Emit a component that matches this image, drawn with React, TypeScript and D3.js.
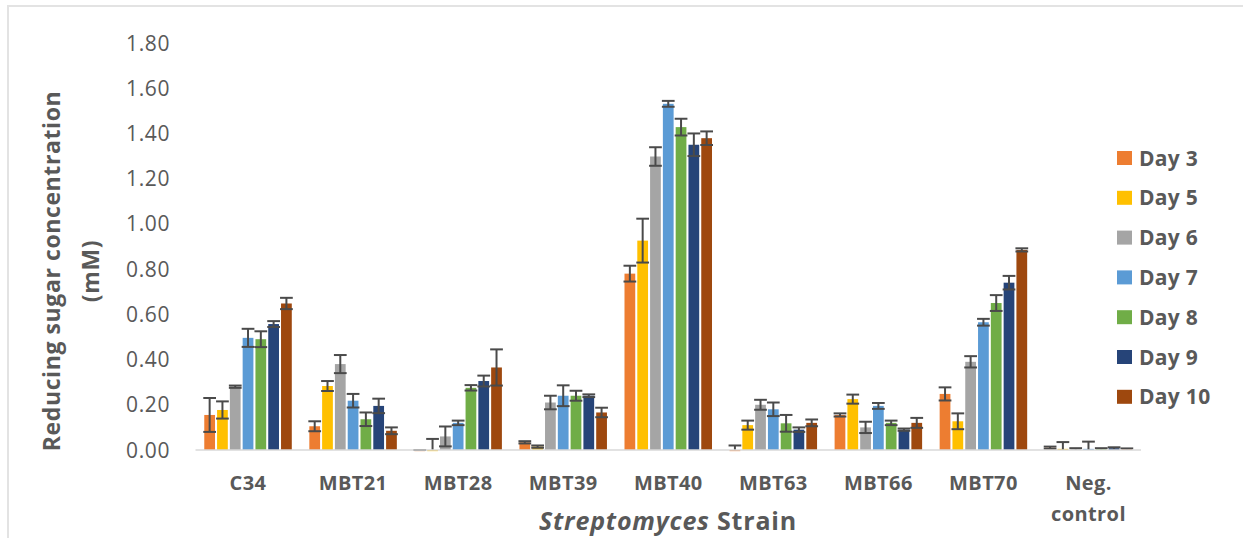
import React, { useEffect, useRef } from "react";
import * as d3 from "d3";

// strains along the x axis, days as the series
const strains = ["C34", "MBT21", "MBT28", "MBT39", "MBT40", "MBT63", "MBT66", "MBT70", "Neg. control"];
const days = ["Day 3", "Day 5", "Day 6", "Day 7", "Day 8", "Day 9", "Day 10"];
const dayColors = ["#ED7D31", "#FFC000", "#A5A5A5", "#5B9BD5", "#70AD47", "#264478", "#9E480E"];

// mean reducing sugar (mM) per strain, one array per day
const day3 = [0.155, 0.105, -0.005, 0.034, 0.78, -0.005, 0.155, 0.248, 0.01];
const day5 = [0.177, 0.283, -0.005, 0.015, 0.926, 0.11, 0.225, 0.127, 0.005];
const day6 = [0.28, 0.38, 0.06, 0.21, 1.298, 0.2, 0.1, 0.39, 0.005];
const day7 = [0.496, 0.218, 0.12, 0.24, 1.531, 0.18, 0.195, 0.565, 0.005];
const day8 = [0.49, 0.136, 0.275, 0.24, 1.428, 0.118, 0.12, 0.65, 0.005];
const day9 = [0.557, 0.195, 0.305, 0.24, 1.35, 0.09, 0.09, 0.74, 0.008];
const day10 = [0.648, 0.085, 0.365, 0.166, 1.379, 0.12, 0.12, 0.885, 0.004];

// error bar half-lengths, same layout
const err3 = [0.075, 0.022, 0.005, 0.005, 0.035, 0.025, 0.007, 0.029, 0.005];
const err5 = [0.038, 0.022, 0.054, 0.005, 0.097, 0.02, 0.02, 0.035, 0.03];
const err6 = [0.005, 0.04, 0.044, 0.03, 0.041, 0.022, 0.025, 0.025, 0.003];
const err7 = [0.04, 0.03, 0.01, 0.046, 0.013, 0.03, 0.013, 0.015, 0.032];
const err8 = [0.035, 0.03, 0.012, 0.022, 0.037, 0.037, 0.01, 0.035, 0.003];
const err9 = [0.013, 0.032, 0.024, 0.006, 0.05, 0.01, 0.005, 0.03, 0.004];
const err10 = [0.025, 0.015, 0.08, 0.021, 0.03, 0.015, 0.022, 0.007, 0.003];

const yTicks = [0, 0.2, 0.4, 0.6, 0.8, 1.0, 1.2, 1.4, 1.6, 1.8];

const seriesValues = [day3, day5, day6, day7, day8, day9, day10];
const seriesErrors = [err3, err5, err6, err7, err8, err9, err10];

function App() {
    const ref = useRef<SVGSVGElement>(null);

    useEffect(() => {
        const W = 1243, H = 538;
        const svg = d3.select(ref.current);
        svg.selectAll("*").remove();

        const textColor = "#595959";
        const font = "'Open Sans', sans-serif";

        // light chart-area border (only top/left show inside the picture)
        svg.append("rect")
            .attr("x", 8).attr("y", 6)
            .attr("width", W).attr("height", H)
            .attr("fill", "white")
            .attr("stroke", "#e3e3e3")
            .attr("stroke-width", 2);

        const x0 = d3.scaleBand<string>()
            .domain(strains)
            .range([195.5, 1141])
            .paddingInner(0.167)
            .paddingOuter(0.0835);

        const x1 = d3.scaleBand<string>()
            .domain(days)
            .range([0, x0.bandwidth()])
            .paddingInner(0.16)
            .paddingOuter(0.0);

        const y = d3.scaleLinear().domain([0, 1.8]).range([450, 43]);

        // y tick labels (no axis line, no gridlines)
        svg.append("g")
            .selectAll("text")
            .data(yTicks)
            .join("text")
                .attr("x", 170)
                .attr("y", d => y(d))
                .attr("dy", "0.36em")
                .attr("text-anchor", "end")
                .attr("font-family", font)
                .attr("font-size", 21)
                .attr("letter-spacing", 0.6)
                .attr("fill", textColor)
                .text(d => d3.format(".2f")(d));

        // bars
        const groups = svg.append("g")
            .selectAll("g")
            .data(strains)
            .join("g")
                .attr("transform", d => `translate(${x0(d)},0)`);

        groups.selectAll("rect")
            .data((s, i) => days.map((day, k) => ({ day, k, v: seriesValues[k][i], e: seriesErrors[k][i] })))
            .join("rect")
                .attr("x", d => x1(d.day)!)
                .attr("width", x1.bandwidth())
                .attr("y", d => y(Math.max(0, d.v)))
                .attr("height", d => Math.abs(y(d.v) - y(0)))
                .attr("fill", d => dayColors[d.k]);

        // error bars, lower end stops at the axis
        const capW = x1.bandwidth() + 2;
        const eb = groups.selectAll("g.err")
            .data((s, i) => days.map((day, k) => ({ day, k, v: seriesValues[k][i], e: seriesErrors[k][i] })))
            .join("g")
                .attr("class", "err")
                .attr("stroke", "#4a4a4a")
                .attr("stroke-width", 2)
                .attr("transform", d => `translate(${x1(d.day)! + x1.bandwidth() / 2},0)`);
        eb.append("line")
            .attr("y1", d => y(d.v + d.e))
            .attr("y2", d => y(Math.max(0, d.v - d.e)));
        eb.append("line")
            .attr("x1", -capW / 2).attr("x2", capW / 2)
            .attr("y1", d => y(d.v + d.e)).attr("y2", d => y(d.v + d.e));
        eb.filter(d => d.v - d.e > 0.004).append("line")
            .attr("x1", -capW / 2).attr("x2", capW / 2)
            .attr("y1", d => y(d.v - d.e)).attr("y2", d => y(d.v - d.e));

        // x axis line
        svg.append("line")
            .attr("x1", x0.range()[0]).attr("x2", x0.range()[1])
            .attr("y1", y(0)).attr("y2", y(0))
            .attr("stroke", "#d9d9d9")
            .attr("stroke-width", 1.5);

        // category labels
        const catLabels = svg.append("g")
            .selectAll("text")
            .data(strains)
            .join("text")
                .attr("x", d => x0(d)! + x0.bandwidth() / 2)
                .attr("y", 490)
                .attr("text-anchor", "middle")
                .attr("font-family", font)
                .attr("font-weight", 700)
                .attr("font-size", 20)
                .attr("letter-spacing", 0.4)
                .attr("fill", textColor);
        catLabels.each(function (d) {
            const parts = d === "Neg. control" ? ["Neg.", "control"] : [d];
            const t = d3.select(this);
            parts.forEach((p, i) => {
                t.append("tspan")
                    .attr("x", x0(d)! + x0.bandwidth() / 2)
                    .attr("dy", i === 0 ? 0 : 31)
                    .text(p);
            });
        });

        // x axis title
        const xt = svg.append("text")
            .attr("x", 668)
            .attr("y", 530)
            .attr("text-anchor", "middle")
            .attr("font-family", font)
            .attr("font-weight", 700)
            .attr("font-size", 25)
            .attr("letter-spacing", 0.8)
            .attr("fill", textColor);
        xt.append("tspan").attr("font-style", "italic").text("Streptomyces");
        xt.append("tspan").text(" Strain");

        // y axis title, two lines
        const yt = svg.append("text")
            .attr("transform", "translate(0,271) rotate(-90)")
            .attr("text-anchor", "middle")
            .attr("font-family", font)
            .attr("font-weight", 700)
            .attr("font-size", 23)
            .attr("letter-spacing", 0.6)
            .attr("fill", textColor);
        yt.append("tspan").attr("x", 0).attr("y", 60).text("Reducing sugar concentration");
        yt.append("tspan").attr("x", 0).attr("y", 99).text("(mM)");

        // legend
        const legend = svg.append("g")
            .selectAll("g")
            .data(days)
            .join("g")
                .attr("transform", (d, i) => `translate(1117,${158 + i * 39.8})`);
        legend.append("rect")
            .attr("x", 0).attr("y", -7)
            .attr("width", 15).attr("height", 14)
            .attr("fill", (d, i) => dayColors[i]);
        legend.append("text")
            .attr("x", 22)
            .attr("dy", "0.36em")
            .attr("font-family", font)
            .attr("font-weight", 700)
            .attr("font-size", 21)
            .attr("letter-spacing", 0.3)
            .attr("fill", textColor)
            .text(d => d);
    }, []);

    return (
        <svg ref={ref} width={1243} height={538}
            style={{ position: "absolute", left: 0, top: 0, background: "white" }} />
    );
}

export default App;
